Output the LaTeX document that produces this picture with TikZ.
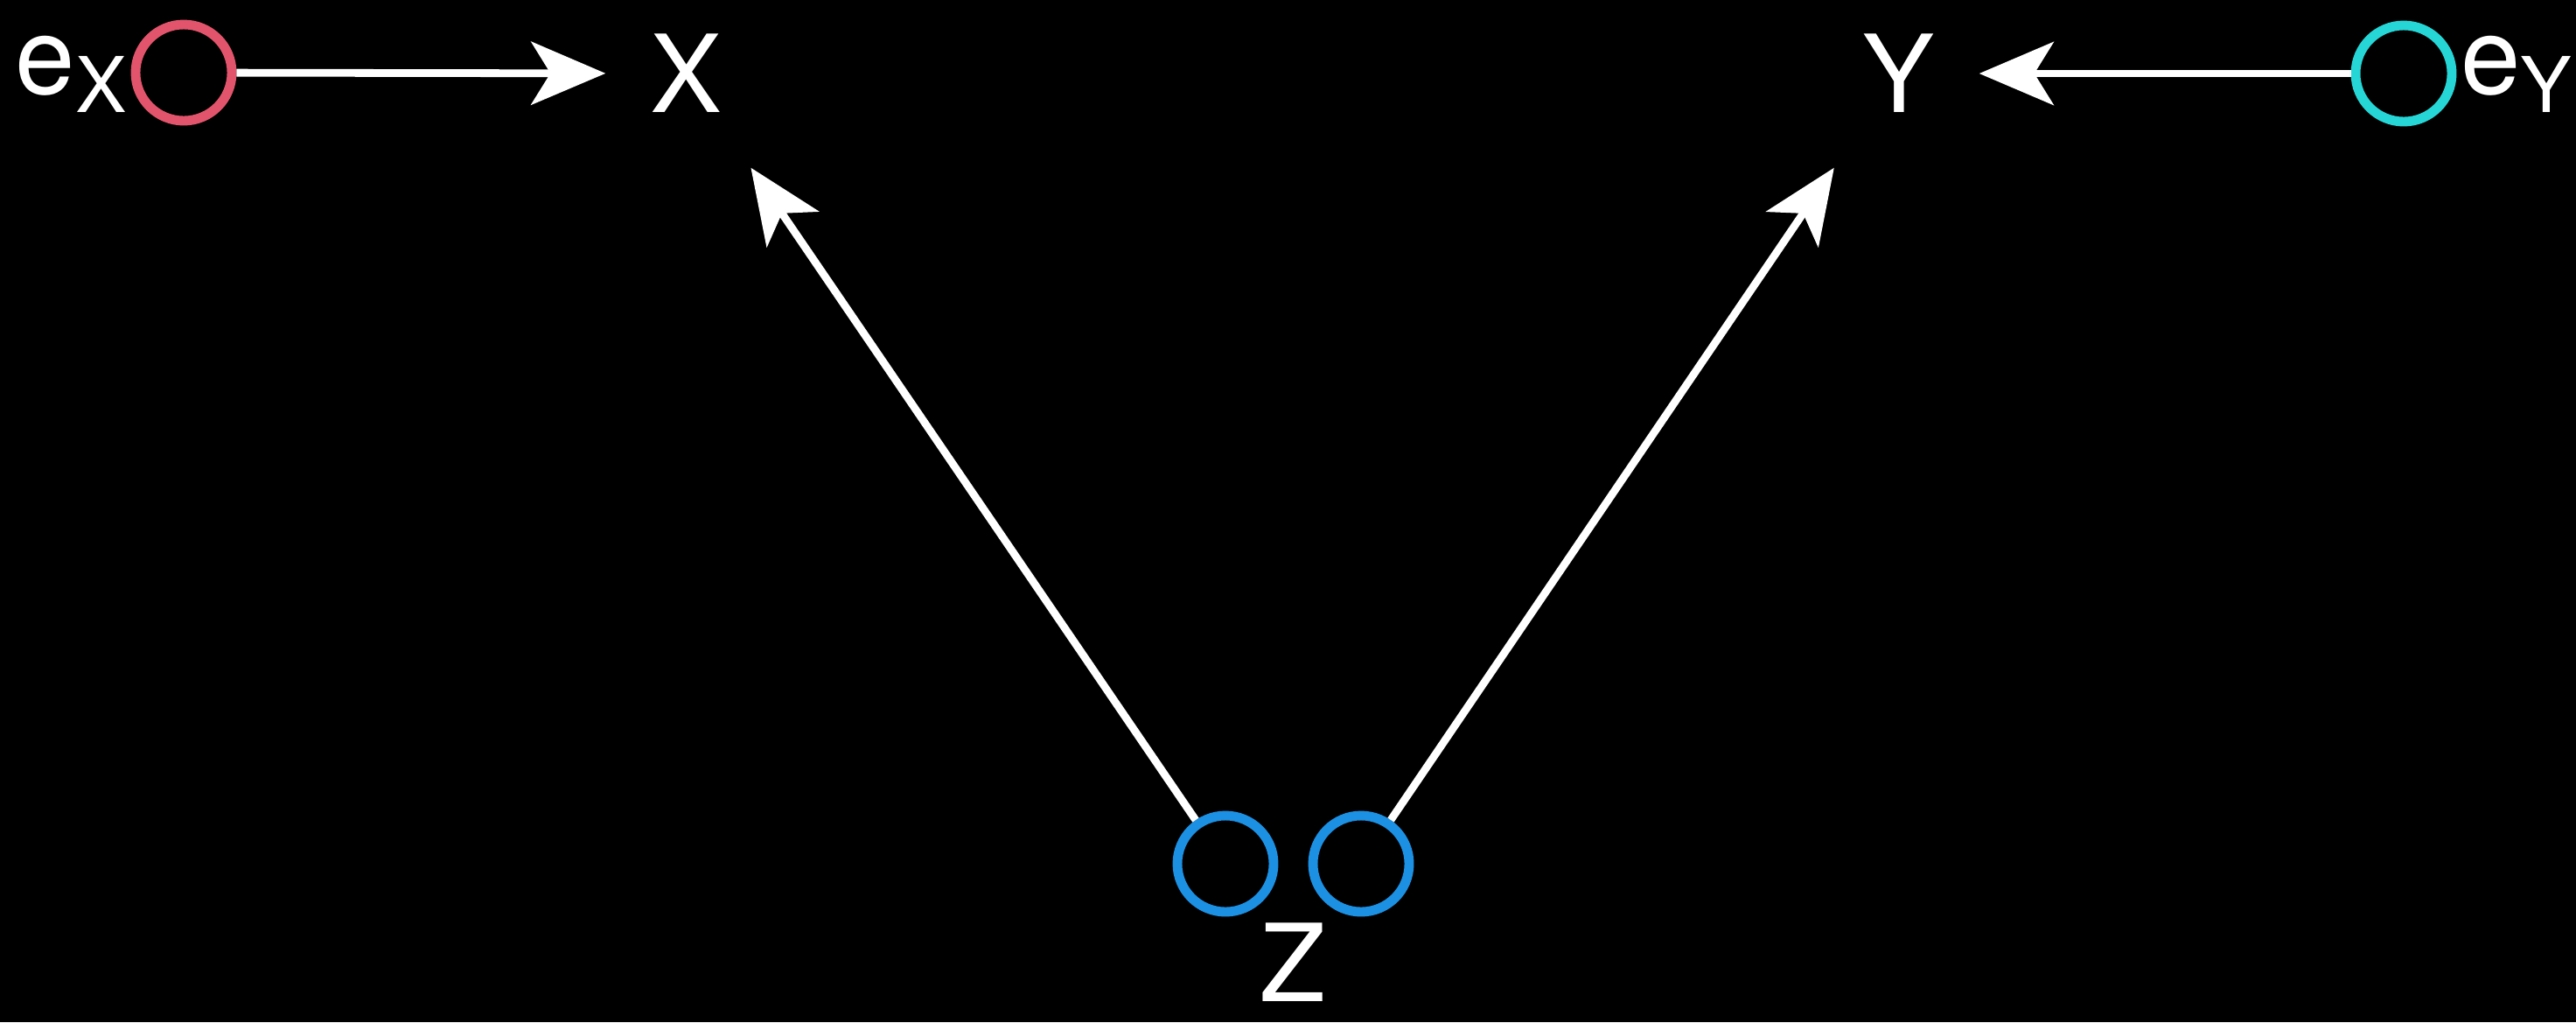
\documentclass[tikz,border=0pt]{standalone}
\usepackage{fontspec}
\setmainfont{TeX Gyre Heros}
\usetikzlibrary{arrows.meta, positioning}
\definecolor{errred}{RGB}{226,84,108}
\definecolor{errcyan}{RGB}{38,214,214}
\definecolor{zblue}{RGB}{28,144,226}
\tikzset{
    myarrow/.style={draw=white, line width=2.5pt, -{Stealth[length=0.85cm, width=0.72cm, inset=0.22cm]}},
    var/.style={text=white, font=\fontsize{35}{42}\selectfont, minimum width=1.84cm, minimum height=2.14cm, inner sep=0pt},
    ring/.style={draw, circle, line width=3.1pt, minimum size=1.1cm, inner sep=0pt},
    lab/.style={text=white, font=\fontsize{35}{42}\selectfont, inner sep=0pt}
}
\newcommand{\errlab}[1]{e\raisebox{-0.21cm}{\fontsize{25}{30}\selectfont #1}}

\begin{document}
\begin{tikzpicture}
    \useasboundingbox (0,0) rectangle (29.45,-11.68);
    \fill [black] (0,0) rectangle (29.45,-11.68);
    \node (ex) [ring, draw=errred] at (2.10,-0.83) {};
    \node (x) [var] at (7.85,-0.84) {X};
    \node (y) [var] at (21.70,-0.84) {Y};
    \node (ey) [ring, draw=errcyan] at (27.48,-0.84) {};
    \node (z1) [ring, draw=zblue] at (14.01,-9.87) {};
    \node (z2) [ring, draw=zblue] at (15.56,-9.87) {};
    \node (exlab) [lab, anchor=base east] at ([xshift=-0.04cm, yshift=-0.24cm]ex.west) {\errlab{X}};
    \node (eylab) [lab, anchor=base west] at ([xshift=0.04cm, yshift=-0.23cm]ey.east) {\errlab{Y}};
    \node (zlab) [lab] at (14.78,-11.00) {Z};
    \draw [myarrow] (ex) -- (x);
    \draw [myarrow] (ey) -- (y);
    \draw [myarrow] (z1) -- (x);
    \draw [myarrow] (z2) -- (y);
\end{tikzpicture}
\end{document}
